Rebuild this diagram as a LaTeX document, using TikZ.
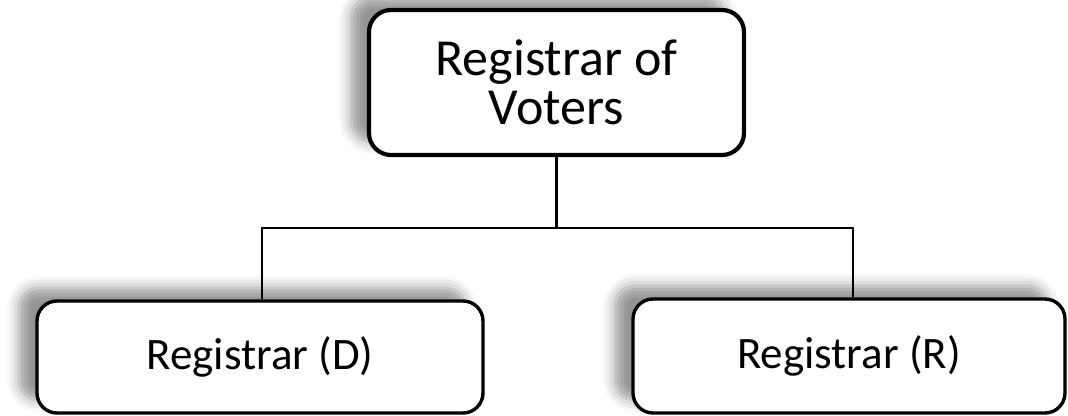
\documentclass[tikz,border=0pt]{standalone}
\usepackage{fontspec}
\setmainfont{Carlito}
\usetikzlibrary{shadows.blur}

\begin{document}
\begin{tikzpicture}[
  x=1pt, y=-1pt,
  office/.style={draw=black, fill=white, rounded corners=22pt, align=center,
    inner sep=0pt,
    blur shadow={shadow xshift=-18pt, shadow yshift=13pt,
      shadow blur radius=12pt, shadow opacity=42}},
  link/.style={draw=black, line width=2.4pt},
  ]
\useasboundingbox (0,0) rectangle (1068,415);
\node [office, line width=4.2pt, minimum width=375pt, minimum height=145pt,
  font=\fontsize{52}{49}\selectfont] (registrar) at (556.5,82.5)
  {Registrar of\\Voters};
\node [office, line width=3.4pt, minimum width=446pt, minimum height=112pt,
  rounded corners=20pt, font=\fontsize{45}{50}\selectfont] (regD) at (260,357)
  {Registrar (D)};
\node [office, line width=3.4pt, minimum width=432pt, minimum height=114pt,
  rounded corners=20pt, font=\fontsize{45}{50}\selectfont] (regR) at (849,356)
  {Registrar (R)};
\coordinate (bus) at (registrar.south |- 0,228);
\draw [link] (registrar.south) -- (bus);
\draw [link] (bus) -| ([xshift=2pt]regD.north);
\draw [link] (bus) -| ([xshift=4pt]regR.north);
\end{tikzpicture}
\end{document}
